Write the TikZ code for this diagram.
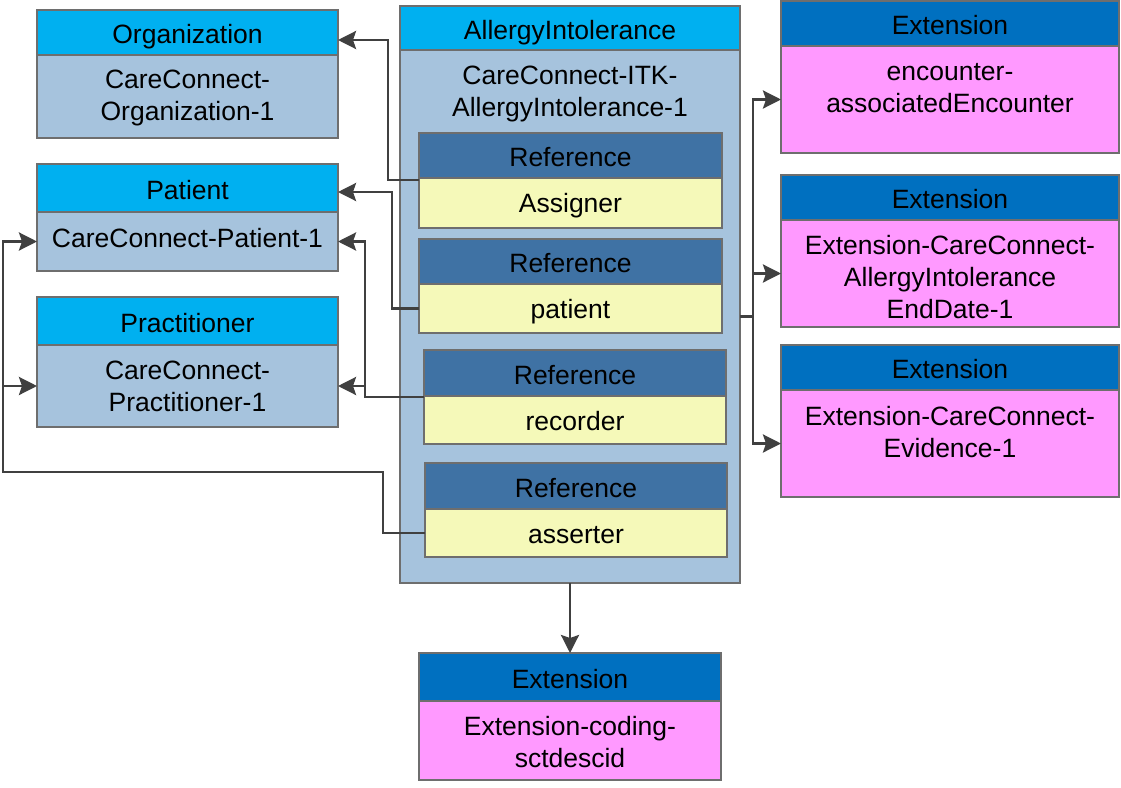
\documentclass[tikz,border=0pt]{standalone}
\usepackage{fontspec}
\setmainfont{Liberation Sans}
\usetikzlibrary{arrows.meta,calc}
\definecolor{hdcyan}{HTML}{00B0F0}
\definecolor{bodyblue}{HTML}{A6C3DD}
\definecolor{refhead}{HTML}{3F72A4}
\definecolor{refbody}{HTML}{F5F9B9}
\definecolor{exthead}{HTML}{0070C0}
\definecolor{extbody}{HTML}{FF99FF}
\definecolor{bordergray}{HTML}{6E6E6E}
\definecolor{linegray}{HTML}{404040}
\tikzset{
  box/.style={draw=bordergray,line width=1.3pt,rectangle,anchor=north west,inner sep=0pt,outer sep=0pt},
  hd/.style={box,text height=22pt,text depth=0pt,font=\fontsize{26.5}{32}\selectfont},
  bd/.style={box},
  txt/.style={anchor=base,align=center,text width=330pt,inner sep=0pt,font=\fontsize{26.5}{32}\selectfont},
  conn/.style={draw=linegray,line width=2.8pt,-{Stealth[length=18pt,width=18pt,inset=3pt]}},
  plain/.style={draw=linegray,line width=2.8pt},
}
\begin{document}
\begin{tikzpicture}[x=1pt,y=-1pt]
\useasboundingbox (0,0) rectangle (1121,787);
\fill[white] (0,0) rectangle (1121,787);

% AllergyIntolerance container
\node[hd,fill=hdcyan,minimum width=340pt,minimum height=44pt] (aiH) at (400,6) {AllergyIntolerance};
\node[bd,fill=bodyblue,minimum width=340pt,minimum height=533pt] (aiB) at (400,50) {};
\node[txt] (aiT) at (570,84) {CareConnect-ITK-\\AllergyIntolerance-1};

% references
\node[hd,fill=refhead,minimum width=303pt,minimum height=45pt] (r1H) at (419,133) {Reference};
\node[bd,fill=refbody,minimum width=303pt,minimum height=50pt] (r1B) at (419,178) {};
\node[txt] (r1T) at (570.5,212) {Assigner};

\node[hd,fill=refhead,minimum width=303pt,minimum height=45pt] (r2H) at (419,239) {Reference};
\node[bd,fill=refbody,minimum width=303pt,minimum height=49pt] (r2B) at (419,284) {};
\node[txt] (r2T) at (570.5,318) {patient};

\node[hd,fill=refhead,minimum width=302pt,minimum height=46pt] (r3H) at (424,350) {Reference};
\node[bd,fill=refbody,minimum width=302pt,minimum height=48pt] (r3B) at (424,396) {};
\node[txt] (r3T) at (575,430) {recorder};

\node[hd,fill=refhead,minimum width=302pt,minimum height=46pt] (r4H) at (425,463) {Reference};
\node[bd,fill=refbody,minimum width=302pt,minimum height=48pt] (r4B) at (425,509) {};
\node[txt] (r4T) at (576,543) {asserter};

% left targets
\node[hd,fill=hdcyan,minimum width=301pt,minimum height=45pt] (orgH) at (37,10) {Organization};
\node[bd,fill=bodyblue,minimum width=301pt,minimum height=83pt] (orgB) at (37,55) {};
\node[txt] (orgT) at (187.5,88) {CareConnect-\\Organization-1};

\node[hd,fill=hdcyan,minimum width=301pt,minimum height=48pt] (patH) at (37,164) {Patient};
\node[bd,fill=bodyblue,minimum width=301pt,minimum height=59pt] (patB) at (37,212) {};
\node[txt] (patT) at (187.5,247) {CareConnect-Patient-1};

\node[hd,fill=hdcyan,minimum width=301pt,minimum height=48pt] (praH) at (37,297) {Practitioner};
\node[bd,fill=bodyblue,minimum width=301pt,minimum height=82pt] (praB) at (37,345) {};
\node[txt] (praT) at (187.5,379) {CareConnect-\\Practitioner-1};

% right extensions
\node[hd,fill=exthead,minimum width=338pt,minimum height=45pt] (e1H) at (781,1) {Extension};
\node[bd,fill=extbody,minimum width=338pt,minimum height=107pt] (e1B) at (781,46) {};
\node[txt] (e1T) at (950,80) {encounter-\\associatedEncounter};

\node[hd,fill=exthead,minimum width=338pt,minimum height=45pt] (e2H) at (781,175) {Extension};
\node[bd,fill=extbody,minimum width=338pt,minimum height=107pt] (e2B) at (781,220) {};
\node[txt] (e2T) at (950,254) {Extension-CareConnect-\\AllergyIntolerance\\EndDate-1};

\node[hd,fill=exthead,minimum width=338pt,minimum height=45pt] (e3H) at (781,345) {Extension};
\node[bd,fill=extbody,minimum width=338pt,minimum height=107pt] (e3B) at (781,390) {};
\node[txt] (e3T) at (950,425) {Extension-CareConnect-\\Evidence-1};

% bottom extension
\node[hd,fill=exthead,minimum width=302pt,minimum height=48pt] (e4H) at (419,653) {Extension};
\node[bd,fill=extbody,minimum width=302pt,minimum height=79pt] (e4B) at (419,701) {};
\node[txt] (e4T) at (570,735) {Extension-coding-\\sctdescid};

% connectors on the left
\draw[conn] ($(r1B.north west)+(0,2)$) -- ++(-31,0) |- ($(orgH.east)+(0,7.5)$);
\draw[conn] (r2B.west) -- ++(-27,0) |- ($(patH.east)+(0,4)$);
\coordinate (rbend) at ($(r3B.north west)+(-59,1)$);
\draw[conn] ($(r3B.north west)+(0,1)$) -- (rbend) |- (patB.east);
\draw[conn] (rbend) |- (praB.east);
\coordinate (lbus) at (3,472);
\draw[conn] (r4B.west) -- ++(-42,0) |- (lbus) |- (patB.west);
\draw[conn] (lbus) |- (praB.west);

% connectors on the right
\coordinate (rbus) at (753,316.5);
\draw[plain] (aiB.east) -- (rbus);
\draw[conn] (rbus) |- (e1B.west);
\draw[conn] (rbus) |- (e2B.west);
\draw[conn] (rbus) |- (e3B.west);

% bottom connector
\draw[conn] (aiB.south) -- (e4H.north);
\end{tikzpicture}
\end{document}
